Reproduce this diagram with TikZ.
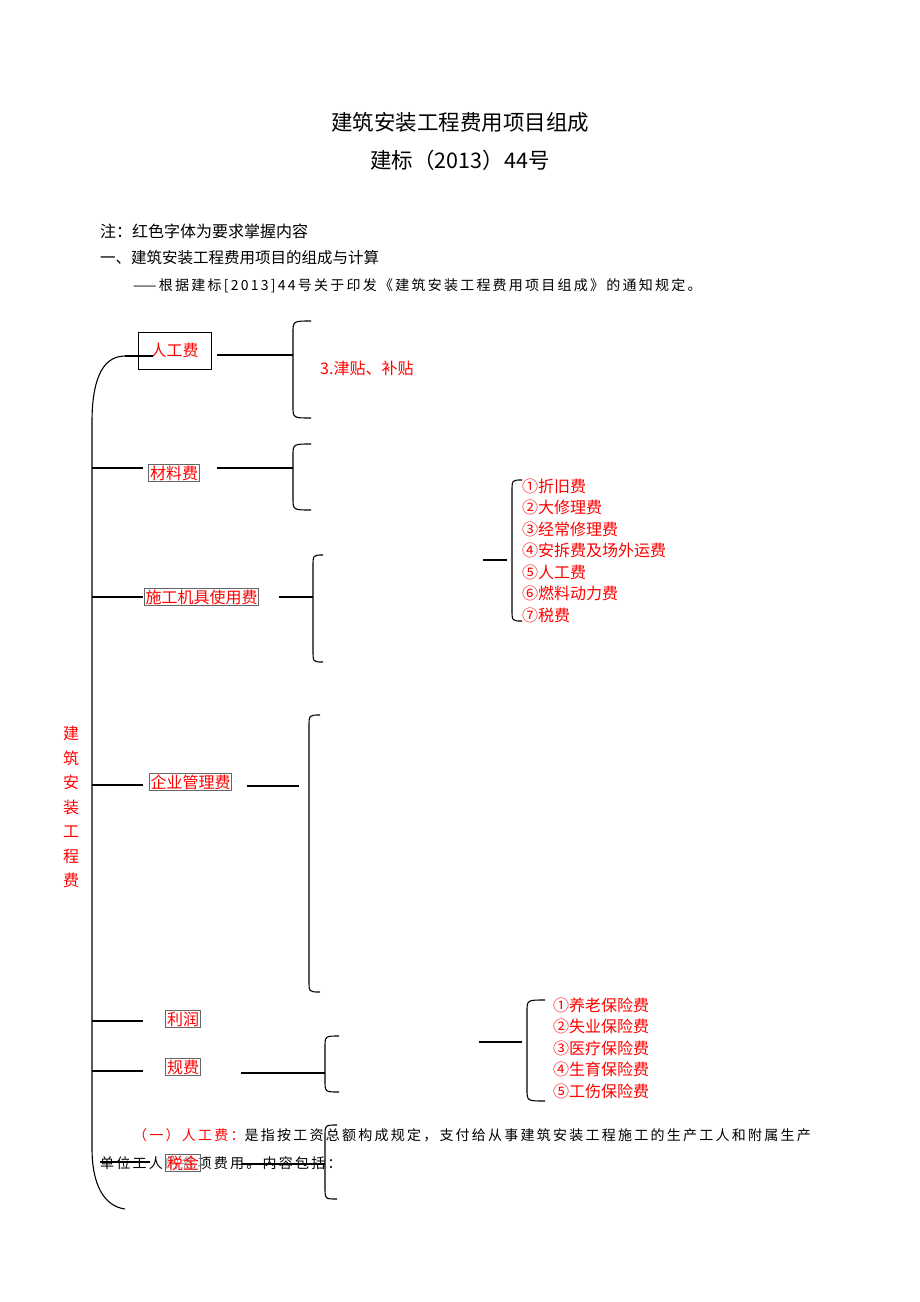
\documentclass[tikz,border=0pt]{standalone}
\usepackage{fontspec}
\setmainfont{Noto Sans CJK SC}
\newfontfamily\spacedfont[LetterSpace=16]{Noto Sans CJK SC}
\newcommand\mybrace[4]{\draw[ln] (#2,#3) .. controls (#1,#3) .. (#1,{#3+12}) -- (#1,{#4-12}) .. controls (#1,#4) .. (#2,#4);}
\begin{document}
\begin{tikzpicture}[x=1pt,y=-1pt,
  ln/.style={line width=1.1pt,black},
  txt/.style={inner sep=0pt,anchor=west,font=\fontsize{16}{16}\selectfont},
  rtxt/.style={txt,text=red},
  box/.style={draw=black!60,line width=0.9pt,inner sep=1.2pt,fill=white,text=red,font=\fontsize{16}{16}\selectfont},
  para/.style={inner sep=0pt,anchor=west,font=\spacedfont\fontsize{14}{14}\selectfont}]
\useasboundingbox (0,0) rectangle (920,1302);
% titles
\node[inner sep=0pt,font=\fontsize{21.5}{21.5}\selectfont] (title) at (460,122) {建筑安装工程费用项目组成};
\node[inner sep=0pt,font=\fontsize{21.5}{21.5}\selectfont] (sub) at (460,160) {建标（2013）44号};
\node[txt] (note) at (100,231) {注：红色字体为要求掌握内容};
\node[txt,font=\fontsize{15.5}{15.5}\selectfont] (sec) at (100,258) {一、建筑安装工程费用项目的组成与计算};
\node[para] (basis) at (133,286) {——根据建标[2013]44号关于印发《建筑安装工程费用项目组成》的通知规定。};
% paragraph (drawn under the tree)
\node[para] (p1) at (133,1135) {{\color{red}（一）人工费：}是指按工资总额构成规定，支付给从事建筑安装工程施工的生产工人和附属生产};
\node[para] (p2) at (100,1163) {单位工人的各项费用。内容包括：};
% vertical root label
\node[inner sep=0pt,text=red,align=center,font=\fontsize{16}{24.5}\selectfont] (root) at (71,807) {建\\筑\\安\\装\\工\\程\\费};
% main bracket
\coordinate (top) at (125,356);
\coordinate (bot) at (125,1209);
\draw[ln] (top) .. controls (100,356) and (92,385) .. (92,422) -- (92,1148) .. controls (92,1185) and (104,1206) .. (bot);
% boxes
\node[draw=black,line width=1pt,text=red,minimum width=73pt,minimum height=37pt,inner sep=0pt,font=\fontsize{16}{16}\selectfont] (rg) at (174.5,350.5) {人工费};
\draw[ln] (top) -- (153,356);
\node[box] (cl) at (174,473) {材料费};
\node[box] (jj) at (201.5,597) {施工机具使用费};
\node[box] (qy) at (190.5,782) {企业管理费};
\node[box] (lr) at (183,1019) {利润};
\node[box] (gf) at (183,1067) {规费};
% left branches
\foreach \n/\y in {a/468,b/597,c/785,d/1021,e/1071}{
  \coordinate (L\n) at (92,\y);
  \coordinate (R\n) at (143,\y);
  \draw[ln] (L\n) -- (R\n);
}
% right connectors and braces
\coordinate (c1a) at (217,355); \coordinate (c1b) at (293,355);
\draw[ln] (c1a) -- (c1b);
\mybrace{293}{311}{321}{418}
\node[rtxt] (jt) at (320,368) {3.津贴、补贴};
\coordinate (c2a) at (217,468); \coordinate (c2b) at (293,468);
\draw[ln] (c2a) -- (c2b);
\mybrace{293}{311}{444}{510}
\coordinate (c3a) at (279,597); \coordinate (c3b) at (313,597);
\draw[ln] (c3a) -- (c3b);
\mybrace{313}{323}{555}{662}
\coordinate (c3c) at (483,560); \coordinate (c3d) at (507,560);
\draw[ln] (c3c) -- (c3d);
\mybrace{512}{522}{480}{621}
\foreach \t [count=\i] in {①折旧费,②大修理费,③经常修理费,④安拆费及场外运费,⑤人工费,⑥燃料动力费,⑦税费}{
  \node[rtxt] (jx\i) at (522,{486+21.5*(\i-1)}) {\t};
}
\coordinate (c4a) at (247,786); \coordinate (c4b) at (299,786);
\draw[ln] (c4a) -- (c4b);
\mybrace{309}{320}{715}{992}
\coordinate (c5a) at (241,1073); \coordinate (c5b) at (325,1073);
\draw[ln] (c5a) -- (c5b);
\mybrace{325}{339}{1036}{1092}
\coordinate (c5c) at (479,1042); \coordinate (c5d) at (522,1042);
\draw[ln] (c5c) -- (c5d);
\mybrace{527}{545}{1000}{1101}
\foreach \t [count=\i] in {①养老保险费,②失业保险费,③医疗保险费,④生育保险费,⑤工伤保险费}{
  \node[rtxt] (bx\i) at (553,{1005+21.5*(\i-1)}) {\t};
}
% tax branch
\coordinate (Lf) at (100,1162); \coordinate (Rf) at (150,1162);
\draw[ln] (Lf) -- (Rf);
\node[box,fill=white,fill opacity=0.6,text opacity=1] (sj) at (183,1163) {税金};
\coordinate (c6a) at (241,1164); \coordinate (c6b) at (325,1164);
\draw[ln] (c6a) -- (c6b);
\mybrace{325}{337}{1125}{1199}
\end{tikzpicture}
\end{document}
